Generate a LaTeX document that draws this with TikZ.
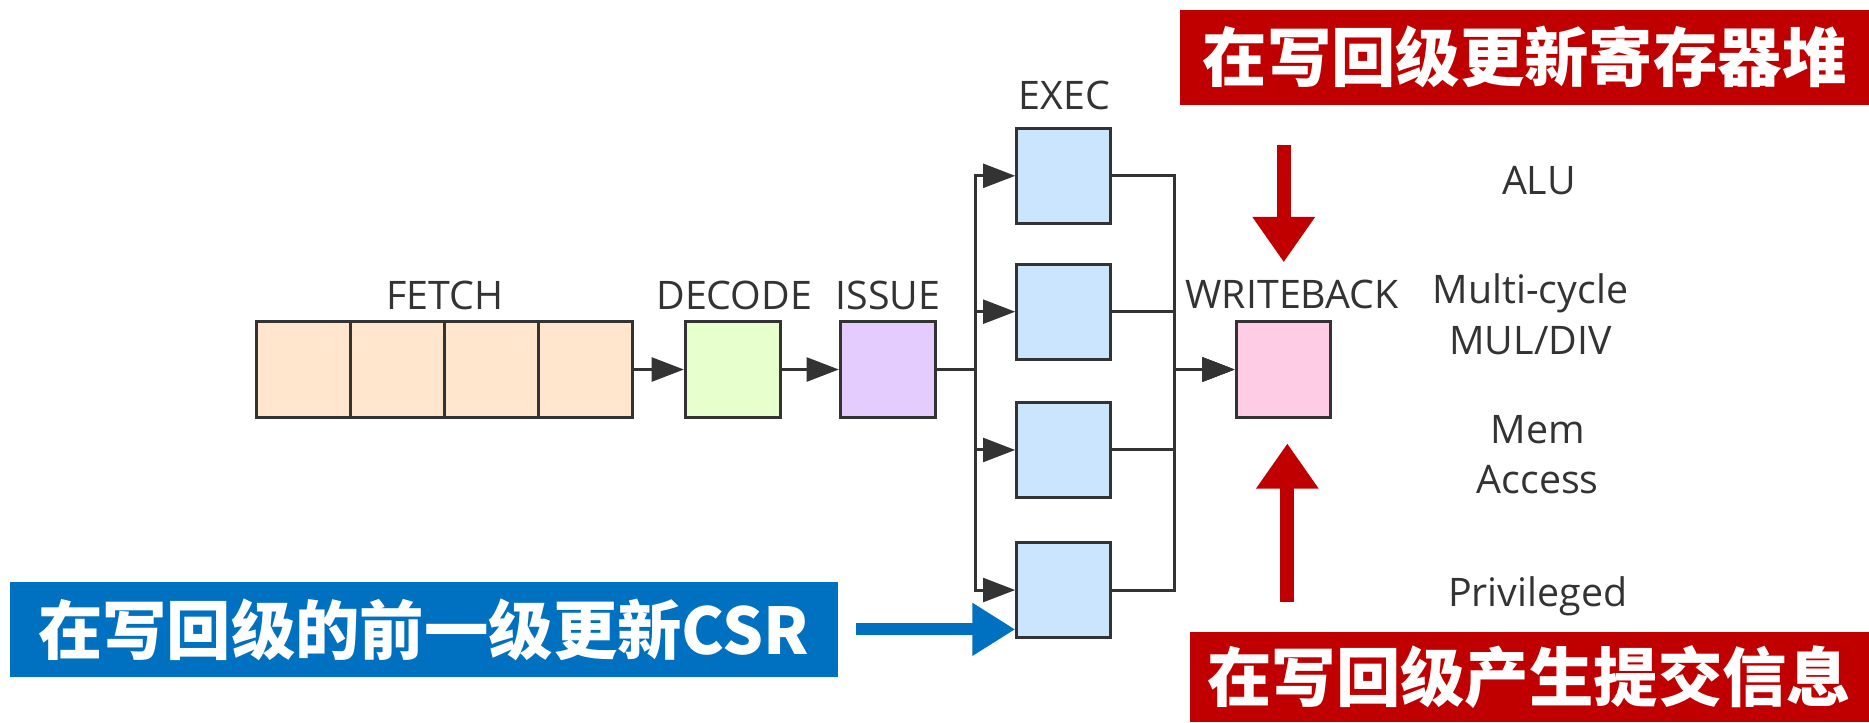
\documentclass[tikz,border=0pt]{standalone}
\usepackage{fontspec}
\setmainfont{Open Sans}
\newfontfamily\cjk{Noto Sans CJK SC}
\usetikzlibrary{arrows.meta}
\definecolor{ink}{HTML}{333333}
\definecolor{fetchc}{HTML}{FFE6CC}
\definecolor{decodec}{HTML}{E6FFCC}
\definecolor{issuec}{HTML}{E5CCFF}
\definecolor{execc}{HTML}{CCE5FF}
\definecolor{wbc}{HTML}{FFCCE6}
\definecolor{noteRed}{HTML}{C00000}
\definecolor{noteBlue}{HTML}{0070C0}
\tikzset{
  stage/.style={draw=ink, line width=2.5pt, minimum width=79pt, minimum height=80pt, inner sep=0pt},
  lbl/.style={text=ink, font=\fontsize{33}{42}\selectfont, inner sep=0pt, anchor=base},
  link/.style={draw=ink, line width=2.5pt, -{Triangle[length=27pt,width=20pt]}},
  notebox/.style={text=white, inner sep=0pt, font=\cjk\bfseries\fontsize{54}{54}\selectfont},
  redarrow/.style={draw=noteRed, fill=noteRed, line width=12pt, -{Triangle[length=38pt,width=50pt]}},
  bluearrow/.style={draw=noteBlue, fill=noteBlue, line width=10pt, -{Triangle[length=36pt,width=42pt]}}
}
\begin{document}
\begin{tikzpicture}[x=1pt,y=-1pt]
\useasboundingbox (0,0) rectangle (1568,606);

% pipeline stages
\node[stage, fill=fetchc] (f1) at (254.5,310) {};
\node[stage, fill=fetchc] (f2) at (333.5,310) {};
\node[stage, fill=fetchc] (f3) at (412.5,310) {};
\node[stage, fill=fetchc] (f4) at (491,310) {};
\node[stage, fill=decodec, minimum width=80pt] (dec) at (615,310) {};
\node[stage, fill=issuec, minimum width=80pt] (iss) at (745,310) {};
\node[stage, fill=execc] (e1) at (892.5,147.5) {};
\node[stage, fill=execc] (e2) at (892.5,261.5) {};
\node[stage, fill=execc] (e3) at (892.5,377.5) {};
\node[stage, fill=execc] (e4) at (892.5,495) {};
\node[stage, fill=wbc] (wb) at (1076.5,310) {};

% stage titles
\node[lbl] (tf) at (373,260) {FETCH};
\node[lbl] (td) at (616,260) {DECODE};
\node[lbl] (ti) at (745,260) {ISSUE};
\node[lbl] (te) at (893,92) {EXEC};
\node[lbl] (tw) at (1084,259) {WRITEBACK};

% execution unit names
\node[lbl] (nalu) at (1291,163) {ALU};
\node[lbl] (nmc1) at (1284,255) {Multi-cycle};
\node[lbl] (nmc2) at (1284,297) {MUL/DIV};
\node[lbl] (nmem1) at (1290,372) {Mem};
\node[lbl] (nmem2) at (1290,414) {Access};
\node[lbl] (npriv) at (1290,509) {Privileged};

% connectors
\draw[link] (f4.east) -- (dec.west);
\draw[link] (dec.east) -- (iss.west);
\coordinate (busin) at (818,310);
\coordinate (busout) at (985,310);
\foreach \e in {e1,e2,e3,e4}{
  \draw[link] (iss.east) -- (busin) |- (\e.west);
  \draw[link] (\e.east) -| (busout) -- (wb.west);
}

% annotation boxes
\node[notebox, fill=noteRed, minimum width=578pt, minimum height=80pt] (rf) at (1279,48) {在写回级更新寄存器堆};
\node[notebox, fill=noteRed, minimum width=570pt, minimum height=76pt] (cm) at (1283,568) {在写回级产生提交信息};
\node[notebox, fill=noteBlue, minimum width=695pt, minimum height=80pt] (csr) at (355.5,528) {在写回级的前一级更新CSR};

% annotation arrows
\coordinate (rfa) at (1077,122);
\coordinate (rfb) at (1077,220);
\coordinate (cma) at (1080,505);
\coordinate (cmb) at (1080,372);
\draw[redarrow] (rfa) -- (rfb);
\draw[redarrow] (cma) -- (cmb);
\draw[bluearrow] ([xshift=15pt]csr.east) -- (csr.east -| e4.west);
\end{tikzpicture}
\end{document}
